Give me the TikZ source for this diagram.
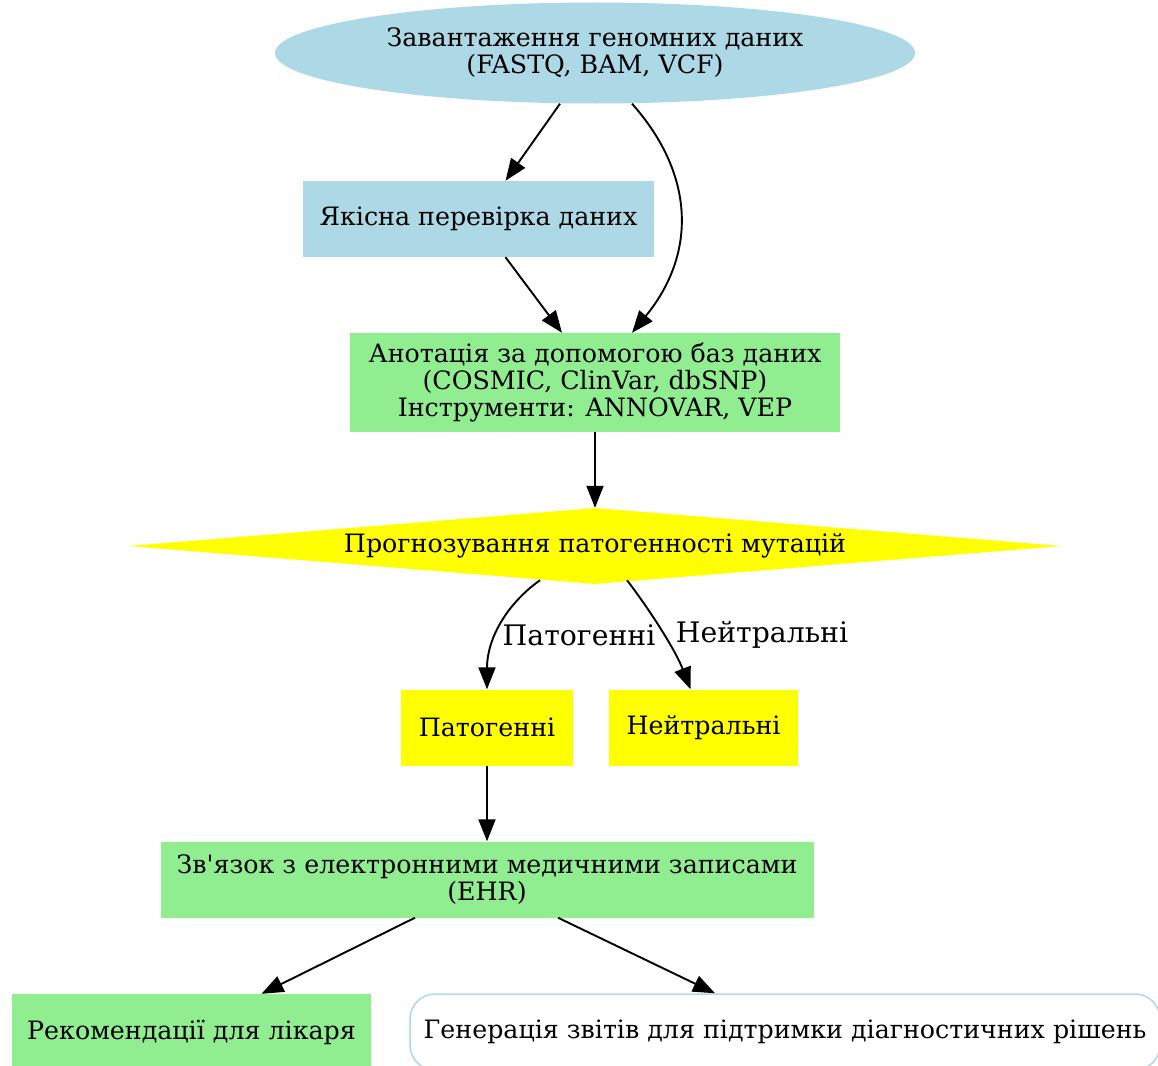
\documentclass[tikz,border=0pt]{standalone}
\usepackage{fontspec}
\setmainfont{DejaVu Serif}
\usetikzlibrary{arrows.meta, shapes.geometric}
\definecolor{lightblue}{HTML}{ADD8E6}
\definecolor{lightgreen}{HTML}{90EE90}
\definecolor{yellowbox}{HTML}{FFFF00}

\begin{document}
\begin{tikzpicture}[x=1pt, y=-1pt,
    every node/.style={font=\fontsize{25.3}{27}\selectfont, align=center, inner sep=0pt},
    box/.style={rectangle, minimum height=76},
    edgelabel/.style={font=\fontsize{28.3}{30}\selectfont},
    edge/.style={line width=1.9pt, -{Triangle[length=22pt, width=17pt]}}]
      \useasboundingbox (0,0) rectangle (1158,1065);

      % Loading of the raw data
      \node[ellipse, fill=lightblue, minimum width=640, minimum height=101] (load) at (595,53)
        {Завантаження геномних даних\\(FASTQ, BAM, VCF)};

      % Quality check
      \node[box, fill=lightblue, minimum width=351] (qc) at (478.5,219) {Якісна перевірка даних};

      % Annotation
      \node[box, fill=lightgreen, minimum width=490, minimum height=99] (annot) at (595,382.5)
        {Анотація за допомогою баз даних\\(COSMIC, ClinVar, dbSNP)\\Інструменти: ANNOVAR, VEP};

      % Decision
      \node[diamond, fill=yellowbox, minimum width=934, minimum height=76, shape aspect=12.3] (risk) at (595,546)
        {Прогнозування патогенності мутацій};

      % The two outcomes
      \node[box, fill=yellowbox, minimum width=172] (path) at (487,727.5) {Патогенні};
      \node[box, fill=yellowbox, minimum width=189] (neut) at (703.5,727.5) {Нейтральні};

      % EHR link
      \node[box, fill=lightgreen, minimum width=653] (ehr) at (487,879.5)
        {Зв\textquotesingle язок з електронними медичними записами\\(EHR)};

      % Outputs
      \node[box, fill=lightgreen, minimum width=359] (rec) at (191.5,1032) {Рекомендації для лікаря};
      \node[box, draw=lightblue, line width=1.5pt, rounded corners=25pt, fill=white, minimum width=750] (rep) at (785,1032)
        {Генерація звітів для підтримки діагностичних рішень};

      % Edge labels
      \node[edgelabel] (lpath) at (579,635) {Патогенні};
      \node[edgelabel] (lneut) at (762,635) {Нейтральні};

      % Connectors
      \draw[edge] ([xshift=-35]load.south) -- ([xshift=27]qc.north);
      \draw[edge] ([xshift=37]load.south) .. controls +(64,72) and +(64,-78) .. ([xshift=37]annot.north);
      \draw[edge] ([xshift=27]qc.south) -- ([xshift=-33]annot.north);
      \draw[edge] (annot.south) -- (risk.north);
      \draw[edge] ([shift={(-55,-4)}]risk.south) .. controls +(-35,25) and +(0,-49) .. (path.north);
      \draw[edge] ([shift={(32,-4)}]risk.south) .. controls +(23,30) and +(-15,-39) .. ([xshift=-13]neut.north);
      \draw[edge] (path.south) -- (ehr.north);
      \draw[edge] ([xshift=-72]ehr.south) -- ([xshift=70]rec.north);
      \draw[edge] ([xshift=71]ehr.south) -- ([xshift=-70]rep.north);
    \end{tikzpicture}
\end{document}
